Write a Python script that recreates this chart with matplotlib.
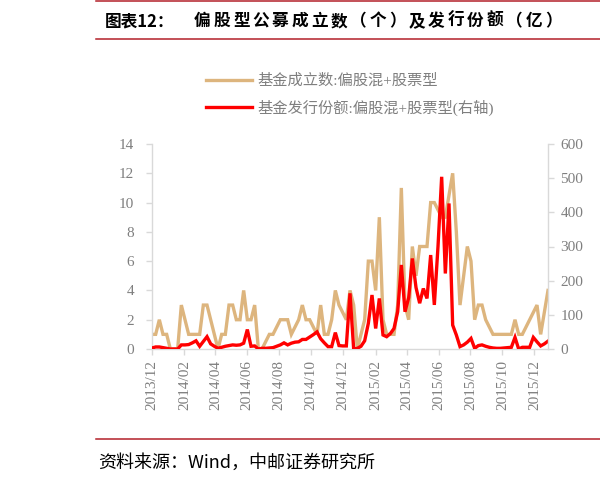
import matplotlib
matplotlib.use("Agg")
import matplotlib.pyplot as plt
import matplotlib.dates as mdates
from matplotlib.lines import Line2D
import pandas as pd
import numpy as np

# ---------------- data ----------------
start_date = "2013-12-01"
n_weeks = 109
fund_count = [1, 1, 2, 1, 1, 0, 0, 0, 3, 2,
              1, 1, 1, 1, 3, 3, 2, 1, 0, 1,
              1, 3, 3, 2, 2, 4, 2, 2, 3, 0,
              0, 0.5, 1, 1, 1.5, 2, 2, 2, 1, 1.5,
              2, 3, 2, 2, 1.5, 1, 3, 1, 1, 2,
              4, 3, 2.5, 2, 4, 3, 0, 1, 2, 6,
              6, 4, 9, 2, 1, 1, 1, 3, 11, 3,
              2, 7, 5, 7, 7, 7, 10, 10, 9.5, 9,
              9, 10.5, 12, 8, 3, 5, 7, 6, 2, 3,
              3, 2, 1.5, 1, 1, 1, 1, 1, 1, 2,
              1, 1, 1.5, 2, 2.5, 3, 1, 2.5, 4]
fund_amount = [3, 6, 6, 4, 2, 0, 0, 0, 12, 12,
               13, 18, 24, 8, 22, 36, 15, 8, 2, 5,
               8, 10, 12, 11, 12, 17, 57, 8, 9, 0,
               2, 2, 3, 4, 8, 12, 18, 12, 17, 20,
               21, 28, 28, 35, 42, 50, 30, 18, 7, 7,
               48, 10, 9, 9, 163, 0, 2, 8, 24, 75,
               158, 60, 148, 41, 36, 45, 60, 109, 246, 109,
               150, 265, 180, 134, 177, 148, 275, 129, 300, 504,
               221, 426, 70, 41, 7, 12, 20, 31, 2, 10,
               12, 8, 5, 3, 2, 2, 3, 4, 5, 34,
               0, 5, 5, 5, 34, 21, 9, 15, 23]
left_ticks = [0, 2, 4, 6, 8, 10, 12, 14]
right_ticks = [0, 100, 200, 300, 400, 500, 600]
label_count = "基金成立数:偏股混+股票型"
label_amount = "基金发行份额:偏股混+股票型(右轴)"
title_head = "图表12："
title_body = "偏股型公募成立数（个）及发行份额（亿）"
source_text = "资料来源：Wind，中邮证券研究所"

dates = pd.date_range(start_date, periods=n_weeks, freq="7D")

# ---------------- styling ----------------
W, H = 600, 479
fig = plt.figure(figsize=(W / 100, H / 100), dpi=100)
cjk = ["Noto Sans CJK SC", "DejaVu Sans"]
serif_cjk = ["Liberation Serif", "Noto Sans CJK SC"]
tick_color = "#7F7F7F"
spine_color = "#D9D9D9"
beige = "#DDB57E"
red = "#FF0000"
line_red = "#B3202A"

ax = fig.add_axes([152 / W, 1 - 349 / H, (548 - 152) / W, (349 - 144) / H])
ax2 = ax.twinx()

ax.plot(dates, fund_count, color=beige, lw=2.4, solid_joinstyle="miter",
        label=label_count)
ax2.plot(dates, fund_amount, color=red, lw=2.4, solid_joinstyle="miter",
         label=label_amount)

ax.set_xlim(dates[0], dates[-1])
ax.set_ylim(0, 14)
ax2.set_ylim(0, 600)
ax.set_yticks(left_ticks)
ax2.set_yticks(right_ticks)

ax.xaxis.set_major_locator(mdates.MonthLocator(bymonth=[2, 4, 6, 8, 10, 12]))
ax.xaxis.set_major_formatter(mdates.DateFormatter("%Y/%m"))

for a in (ax, ax2):
    for s in a.spines.values():
        s.set_color(spine_color)
        s.set_linewidth(1.0)
    a.spines["top"].set_visible(False)
ax.spines["right"].set_visible(False)
ax2.spines["left"].set_visible(False)
ax2.spines["bottom"].set_visible(False)

ax.tick_params(axis="x", direction="out", length=4, width=1, color=spine_color,
               labelcolor=tick_color, labelsize=11, rotation=90, pad=4)
ax.tick_params(axis="y", direction="out", length=4, width=1, color=spine_color,
               labelcolor=tick_color, labelsize=11, pad=9)
ax2.tick_params(axis="y", direction="out", length=4, width=1, color=spine_color,
                labelcolor=tick_color, labelsize=11, pad=5)
for lab in ax.get_xticklabels() + ax.get_yticklabels() + ax2.get_yticklabels():
    lab.set_fontfamily("Liberation Serif")

# legend
h1, l1 = ax.get_legend_handles_labels()
h2, l2 = ax2.get_legend_handles_labels()
leg = fig.legend(h1 + h2, l1 + l2, loc="upper left",
                 bbox_to_anchor=(192 / W, 1 - 60 / H), frameon=False,
                 handlelength=3.0, handletextpad=0.4, labelspacing=0.75,
                 prop={"family": serif_cjk, "size": 11})
for t in leg.get_texts():
    t.set_color(tick_color)

# title, source and rules
fig.text(105 / W, 1 - 21 / H, title_head, fontsize=12, fontweight="bold",
         family=cjk, color="black", va="center", ha="left")
for i, ch in enumerate(title_body):
    fig.text((194 + i * 19.5) / W, 1 - 21 / H, ch, fontsize=12,
             fontweight="bold", family=cjk, color="black",
             va="center", ha="left")
fig.text(98 / W, 1 - 463 / H, source_text, fontsize=13, family=cjk,
         color="black", va="center", ha="left")
for yy in (1, 39, 439):
    fig.add_artist(Line2D([96 / W, 1.0], [1 - yy / H, 1 - yy / H],
                          transform=fig.transFigure, color=line_red, lw=1.1))

fig.savefig("out.png", dpi=100)
